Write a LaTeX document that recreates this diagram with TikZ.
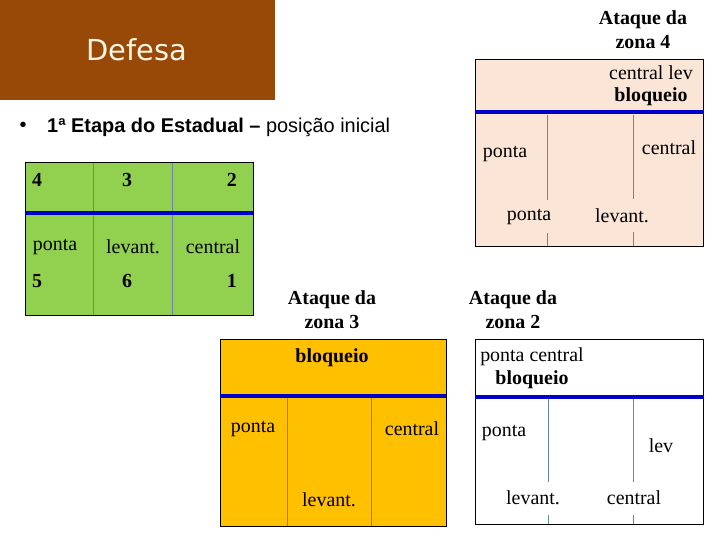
\documentclass[tikz,border=0pt]{standalone}
\usepackage{fontspec}
\setmainfont{Liberation Serif}
\newfontfamily\slidesans{Liberation Sans}
\newfontfamily\titlesans{DejaVu Sans}
\usetikzlibrary{positioning}
\definecolor{DefesaBrown}{HTML}{984807}
\definecolor{TitleCream}{HTML}{FFF6E6}
\definecolor{CourtGreen}{HTML}{92D050}
\definecolor{ZoneOrange}{HTML}{FFC000}
\definecolor{ZoneBeige}{HTML}{FBE5D6}
\definecolor{NetBlue}{HTML}{0000CC}
\definecolor{LineGrey}{HTML}{6B84A0}
\tikzset{
  lbl/.style={font=\fontsize{20}{24}\selectfont,inner sep=1pt},
  lblb/.style={font=\fontsize{20}{24}\selectfont\bfseries,inner sep=1pt},
  gap/.style={minimum height=33bp},
  net/.style={NetBlue,line width=4.5bp},
  divider/.style={LineGrey,line width=0.8bp},
  zonebox/.style={draw=black,line width=0.8bp},
}

\begin{document}
\begin{tikzpicture}[x=1bp,y=-1bp,line join=miter]
  \useasboundingbox (0,0) rectangle (720,540);
  % title block
  \path[fill=DefesaBrown] (0,0) rectangle (275,100);
  \node[text=TitleCream,font=\titlesans\fontsize{29}{32}\selectfont] (defesa) at (137,50) {Defesa};
  \node[font=\slidesans\fontsize{20}{22}\selectfont] (bullet) at (23,127) {•};
  \node[anchor=west,inner sep=0pt,font=\slidesans\fontsize{20}{22}\selectfont] (etapa) at (47,127)
    {\textbf{1ª Etapa do Estadual –} posição inicial};

  % starting rotation
  \path[fill=CourtGreen] (25,162) rectangle (253,315);
  \foreach \x in {93,172}{
    \draw[divider] (\x,162) -- (\x,315);
  }
  \draw[net] (25,213) -- (253,213);
  \draw[zonebox] (25,162) rectangle (253,315);
  \node[lblb,anchor=west] (p4) at (31,180) {4};
  \node[lblb] (p3) at (127,180) {3};
  \node[lblb,anchor=east] (p2) at (238,180) {2};
  \node[lbl] (gponta) at (55,247) {ponta};
  \node[lbl] (glevant) at (133,247) {levant.};
  \node[lbl] (gcentral) at (213,247) {central};
  \node[lblb,anchor=west] (p5) at (31,281) {5};
  \node[lblb] (p6) at (127,281) {6};
  \node[lblb,anchor=east] (p1) at (238,281) {1};

  % ataque da zona 4
  \node[lblb,align=center] (zquatro) at (643,30) {Ataque da\\zona 4};
  \path[fill=ZoneBeige] (475,59) rectangle (703,246);
  \foreach \x in {547,633}{
    \draw[divider] (\x,115) -- (\x,246);
  }
  \draw[zonebox] (475,59) rectangle (703,246);
  \draw[net] (475,112) -- (704,112);
  \node[lbl] (qlev) at (651,73) {central lev};
  \node[lblb] (qbloq) at (651,97) {bloqueio};
  \node[lbl] (qpontaA) at (505,154) {ponta};
  \node[lbl] (qcentral) at (669,148) {central};
  \node[lbl,gap,fill=ZoneBeige] (qpontaB) at (529,217) {ponta};
  \node[lbl,gap,fill=ZoneBeige] (qlevant) at (622,216) {levant.};

  % ataque da zona 3
  \node[lblb,align=center] (ztres) at (332,310) {Ataque da\\zona 3};
  \path[fill=ZoneOrange] (220,339) rectangle (446,526);
  \foreach \x in {287,371}{
    \draw[divider] (\x,396) -- (\x,526);
  }
  \draw[zonebox] (220,339) rectangle (446,526);
  \draw[net] (220,396) -- (446,396);
  \node[lblb] (tbloq) at (332,358) {bloqueio};
  \node[lbl] (tponta) at (253,429) {ponta};
  \node[lbl] (tcentral) at (412,429) {central};
  \node[lbl] (tlevant) at (329,500) {levant.};

  % ataque da zona 2
  \node[lblb,align=center] (zdois) at (513,310) {Ataque da\\zona 2};
  \path[fill=white] (475,339) rectangle (703,524);
  \foreach \x in {548,633}{
    \draw[divider] (\x,397) -- (\x,524);
  }
  \draw[zonebox] (475,339) rectangle (703,524);
  \draw[net] (475,397) -- (704,397);
  \node[lbl] (dcentral) at (532,357) {ponta central};
  \node[lblb] (dbloq) at (532,380) {bloqueio};
  \node[lbl] (dponta) at (504,433) {ponta};
  \node[lbl] (dlev) at (661,446) {lev};
  \node[lbl,gap,fill=white] (dlevant) at (533,498) {levant.};
  \node[lbl,gap,fill=white] (dcentralB) at (634,498) {central};
\end{tikzpicture}
\end{document}
